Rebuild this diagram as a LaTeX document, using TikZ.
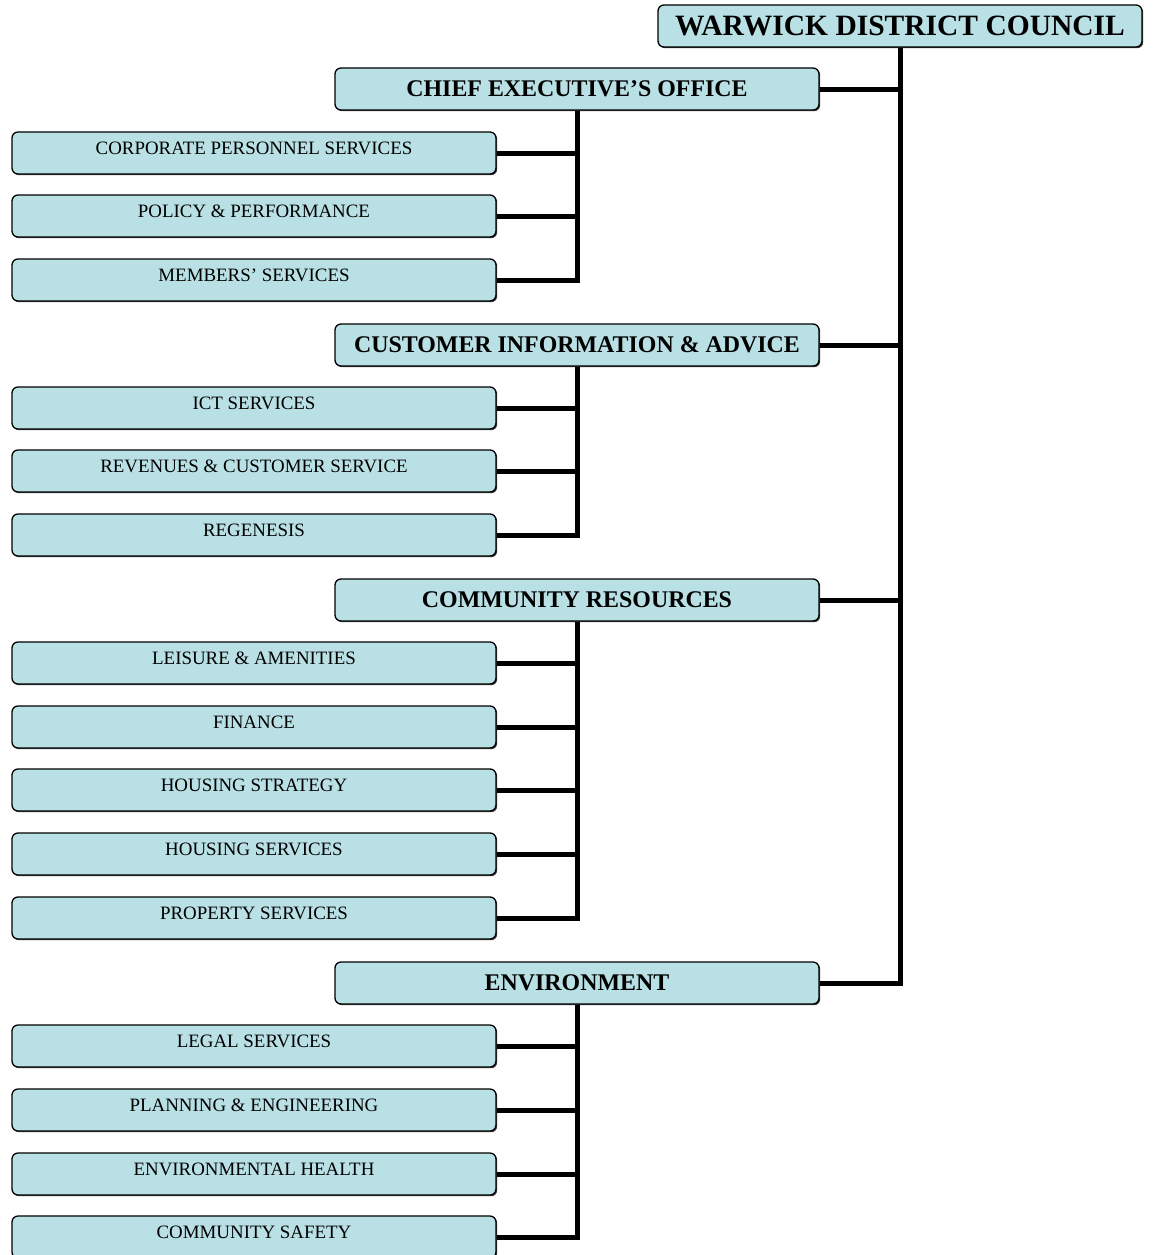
\documentclass[tikz,border=0pt]{standalone}
\usepackage{fontspec}
\setmainfont{Liberation Serif}
\usetikzlibrary{shadows}
\definecolor{boxfill}{RGB}{185,224,228}
\tikzset{
  x=1pt,y=-1pt,
  orgbox/.style={draw=black, line width=1.3pt, fill=boxfill, rounded corners=6pt,
    minimum width=484pt, minimum height=42pt, inner sep=0pt,
    general shadow={shadow xshift=1.2pt, shadow yshift=-1.2pt, fill=black!75}},
  topbox/.style={orgbox, font=\fontsize{29.5}{32}\selectfont\bfseries},
  deptbox/.style={orgbox, font=\fontsize{23.9}{27}\selectfont\bfseries},
  unitbox/.style={orgbox, font=\fontsize{18.9}{22}\selectfont, text height=12pt, text depth=9.5pt},
  link/.style={line width=5pt, line join=miter},
}
\begin{document}
\begin{tikzpicture}
\useasboundingbox (0,0) rectangle (1153,1255);
\node[topbox] (wdc) at (900,26) {WARWICK DISTRICT COUNCIL};

\node[deptbox] (ceo) at (577,89) {CHIEF EXECUTIVE’S OFFICE};
\node[unitbox] (cps) at (254,153) {CORPORATE PERSONNEL SERVICES};
\node[unitbox] (pp)  at (254,216) {POLICY \& PERFORMANCE};
\node[unitbox] (ms)  at (254,280) {MEMBERS’ SERVICES};

\node[deptbox] (cia) at (577,345) {CUSTOMER INFORMATION \& ADVICE};
\node[unitbox] (ict) at (254,408) {ICT SERVICES};
\node[unitbox] (rcs) at (254,471) {REVENUES \& CUSTOMER SERVICE};
\node[unitbox] (reg) at (254,535) {REGENESIS};

\node[deptbox] (cr) at (577,600) {COMMUNITY RESOURCES};
\node[unitbox] (la)  at (254,663) {LEISURE \& AMENITIES};
\node[unitbox] (fin) at (254,727) {FINANCE};
\node[unitbox] (hst) at (254,790) {HOUSING STRATEGY};
\node[unitbox] (hse) at (254,854) {HOUSING SERVICES};
\node[unitbox] (ps)  at (254,918) {PROPERTY SERVICES};

\node[deptbox] (env) at (577,983) {ENVIRONMENT};
\node[unitbox] (ls)  at (254,1046) {LEGAL SERVICES};
\node[unitbox] (pe)  at (254,1110) {PLANNING \& ENGINEERING};
\node[unitbox] (eh)  at (254,1174) {ENVIRONMENTAL HEALTH};
\node[unitbox] (cs)  at (254,1237) {COMMUNITY SAFETY};

% main spine
\draw[link] (wdc.south) |- (env.east);
\foreach \d in {ceo,cia,cr}
  \draw[link] (\d.east) -- (\d.east -| wdc.south);

% department spines
\draw[link] (ceo.south) |- (ms.east);
\foreach \u in {cps,pp}
  \draw[link] (\u.east) -- (\u.east -| ceo.south);
\draw[link] (cia.south) |- (reg.east);
\foreach \u in {ict,rcs}
  \draw[link] (\u.east) -- (\u.east -| cia.south);
\draw[link] (cr.south) |- (ps.east);
\foreach \u in {la,fin,hst,hse}
  \draw[link] (\u.east) -- (\u.east -| cr.south);
\draw[link] (env.south) |- (cs.east);
\foreach \u in {ls,pe,eh}
  \draw[link] (\u.east) -- (\u.east -| env.south);
\end{tikzpicture}
\end{document}
